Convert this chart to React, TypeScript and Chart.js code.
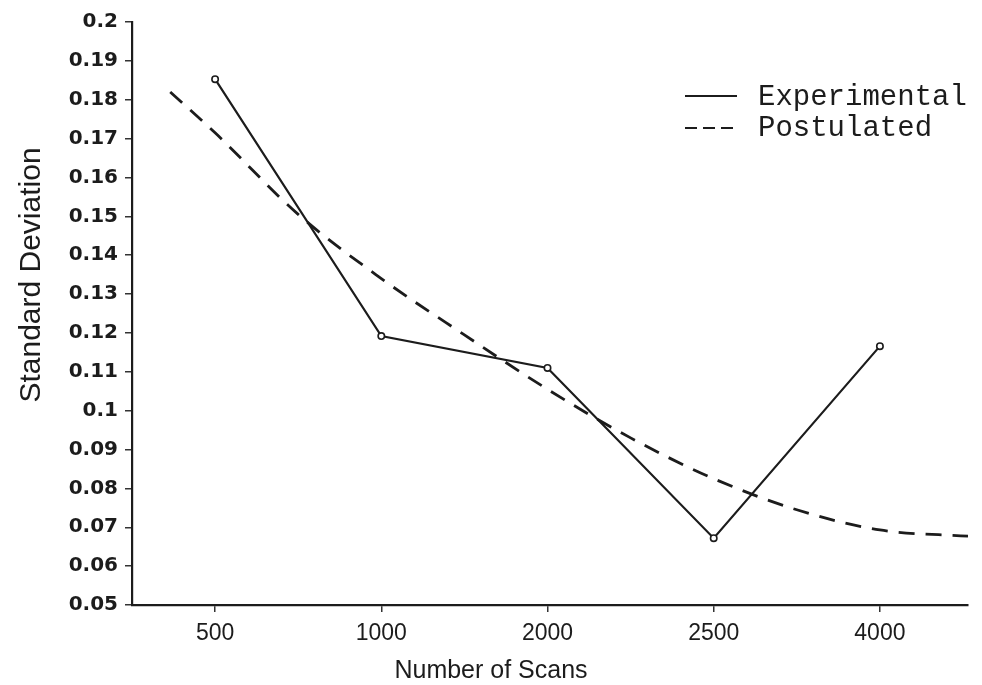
import React, { useEffect, useRef } from "react";
import { Chart, registerables } from "chart.js";

Chart.register(...registerables);

// Category labels of the x axis (equally spaced positions 0..4)
const scanLabels = ["500", "1000", "2000", "2500", "4000"];
const scanPositions = [0, 1, 2, 3, 4];

// Experimental standard deviation at each scan count
const experimentalValues = [0.1853, 0.1192, 0.111, 0.0672, 0.1166];

// Postulated curve (position along the category axis, value)
const postulatedX = [-0.27, 0, 0.5, 1, 1.5, 2, 2.5, 3, 3.5, 4, 4.53];
const postulatedY = [0.182, 0.1715, 0.1505, 0.134, 0.1195, 0.1055, 0.093, 0.0825, 0.0745, 0.0693, 0.0677];

// y tick range
const yMin = 0.05;
const yMax = 0.2;
const yStep = 0.01;

const INK = "#1c1c1c";

const overlayPlugin = {
  id: "overlayText",
  afterDraw(chart: any) {
    const ctx = chart.ctx as CanvasRenderingContext2D;
    ctx.save();
    ctx.fillStyle = INK;
    // x axis title
    ctx.font = '25px "Liberation Sans", Arial, sans-serif';
    ctx.textAlign = "center";
    ctx.textBaseline = "alphabetic";
    ctx.fillText("Number of Scans", 491, 678);
    // y axis title
    ctx.save();
    ctx.translate(40, 275);
    ctx.rotate(-Math.PI / 2);
    ctx.font = '30px "Liberation Sans", Arial, sans-serif';
    ctx.fillText("Standard Deviation", 0, 0);
    ctx.restore();

    // legend
    ctx.strokeStyle = INK;
    ctx.lineWidth = 2.2;
    ctx.beginPath();
    ctx.moveTo(685, 96);
    ctx.lineTo(737, 96);
    ctx.stroke();
    ctx.setLineDash([12, 6]);
    ctx.beginPath();
    ctx.moveTo(685, 128);
    ctx.lineTo(737, 128);
    ctx.stroke();
    ctx.setLineDash([]);
    ctx.font = '29px "Liberation Mono", "Courier New", monospace';
    ctx.textAlign = "left";
    ctx.fillText("Experimental", 758, 105);
    ctx.fillText("Postulated", 758, 136);
    ctx.restore();
  },
};

export default function App() {
  const canvasRef = useRef<HTMLCanvasElement | null>(null);

  useEffect(() => {
    document.body.style.margin = "0";
    const canvas = canvasRef.current;
    if (!canvas) return;

    const experimental = scanPositions.map((x, i) => ({ x, y: experimentalValues[i] }));
    const postulated = postulatedX.map((x, i) => ({ x, y: postulatedY[i] }));

    const chart = new Chart(canvas, {
      type: "line",
      data: {
        datasets: [
          {
            label: "Postulated",
            data: postulated,
            borderColor: INK,
            borderWidth: 2.8,
            borderDash: [16, 11],
            pointRadius: 0,
            tension: 0.4,
            cubicInterpolationMode: "monotone",
            fill: false,
          },
          {
            label: "Experimental",
            data: experimental,
            borderColor: INK,
            borderWidth: 2.2,
            pointRadius: 3.2,
            pointBorderWidth: 1.6,
            pointBackgroundColor: "#ffffff",
            pointBorderColor: INK,
            tension: 0,
            fill: false,
          },
        ],
      },
      options: {
        responsive: false,
        animation: false,
        devicePixelRatio: 1,
        layout: { padding: { left: 0, right: 14, top: 22, bottom: 0 } },
        plugins: {
          legend: { display: false },
          tooltip: { enabled: false },
          title: { display: false },
        },
        scales: {
          x: {
            type: "linear",
            min: -0.5,
            max: 4.53,
            afterBuildTicks: (scale: any) => {
              scale.ticks = scanPositions.map((v) => ({ value: v }));
            },
            afterFit: (scale: any) => {
              scale.height = 80;
            },
            ticks: {
              autoSkip: false,
              maxRotation: 0,
              padding: 8,
              color: INK,
              font: { family: '"Liberation Sans", Arial, sans-serif', size: 23 },
              callback: (v: any) => {
                const i = scanPositions.indexOf(Number(v));
                return i >= 0 ? scanLabels[i] : "";
              },
            },
            grid: {
              drawOnChartArea: false,
              drawTicks: true,
              tickLength: 7,
              color: "#333",
              lineWidth: 1.5,
            },
            border: { display: true, color: INK, width: 2.2 },
          },
          y: {
            min: yMin,
            max: yMax,
            afterFit: (scale: any) => {
              scale.width = 132;
            },
            ticks: {
              stepSize: yStep,
              padding: 7,
              color: INK,
              font: { family: '"DejaVu Sans", sans-serif', size: 20, weight: "bold" },
              callback: (v: any) => String(Number(Number(v).toFixed(2))),
            },
            grid: {
              drawOnChartArea: false,
              drawTicks: true,
              tickLength: 7,
              color: "#333",
              lineWidth: 1.5,
            },
            border: { display: true, color: INK, width: 2.2 },
          },
        },
      },
      plugins: [overlayPlugin],
    });

    return () => chart.destroy();
  }, []);

  return (
    <div style={{ width: 982, height: 685 }}>
      <canvas ref={canvasRef} width={982} height={685} style={{ display: "block" }} />
    </div>
  );
}
